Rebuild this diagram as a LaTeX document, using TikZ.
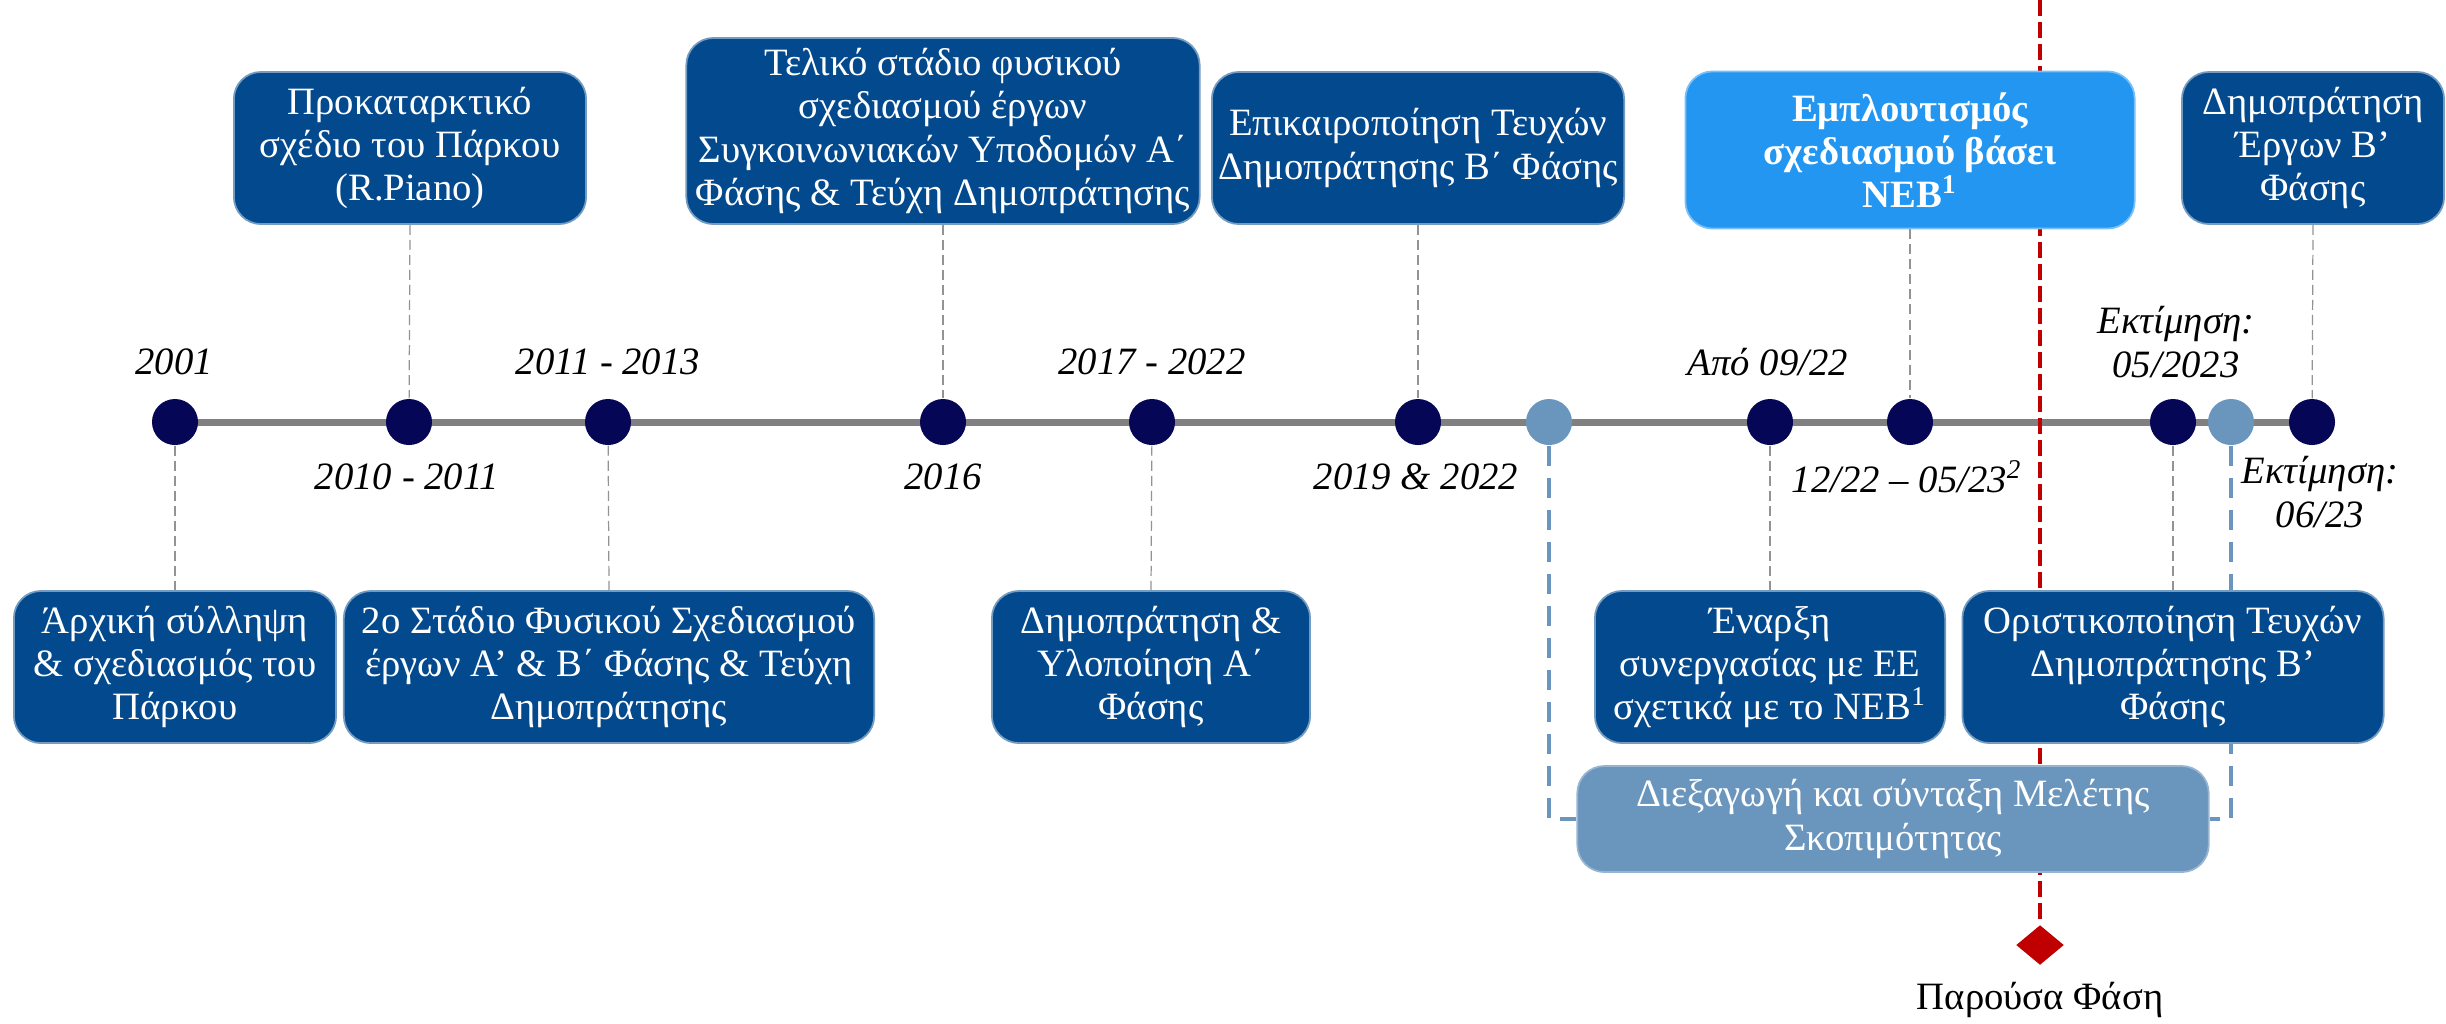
\documentclass[tikz,border=0pt]{standalone}
\usepackage{fontspec}
\setmainfont{Liberation Serif}
\usetikzlibrary{shapes.geometric,backgrounds}
\definecolor{phaseblue}{RGB}{3,73,141}
\definecolor{focusblue}{RGB}{34,150,240}
\definecolor{studyblue}{RGB}{106,150,190}
\definecolor{navydot}{RGB}{6,6,86}
\definecolor{nowred}{RGB}{192,0,0}
\tikzset{
  phasebox/.style={draw=phaseblue!55!white, line width=0.5pt, fill=phaseblue, rounded corners=0.27cm,
    text=white, align=center, inner sep=0pt, minimum height=1.52cm, font=\fontsize{11}{12.3}\selectfont},
  focusbox/.style={phasebox, fill=focusblue, draw=focusblue!60!white, font=\fontsize{11}{12.3}\selectfont\bfseries},
  studybox/.style={phasebox, fill=studyblue, draw=studyblue!70!white},
  darkdot/.style={circle, fill=navydot, minimum size=0.46cm, inner sep=0pt},
  palemark/.style={circle, fill=studyblue, minimum size=0.46cm, inner sep=0pt},
  datelbl/.style={font=\fontsize{11}{12.3}\selectfont\itshape, align=center},
  leader/.style={draw=gray!85, line width=0.35pt, dash pattern=on 0.1cm off 0.05cm},
  bracket/.style={draw=studyblue, line width=0.9pt, dash pattern=on 0.2cm off 0.12cm},
  nowline/.style={draw=nowred, line width=0.9pt, dash pattern=on 0.16cm off 0.06cm}
}
\begin{document}
\begin{tikzpicture}[x=0.01cm, y=-0.01cm]
\useasboundingbox (0,0) rectangle (2446,1023);
\coordinate (nowTop) at (2040,0);
\node[diamond, fill=nowred, minimum width=0.48cm, minimum height=0.40cm, inner sep=0pt] (now) at (2040,945) {};
\node (nowlbl) at (2040,1000) {\fontsize{11}{12.3}\selectfont Παρούσα Φάση};

\node[phasebox, minimum width=3.52cm] (tProk) at (410,148) {Προκαταρκτικό\\σχέδιο του Πάρκου\\(R.Piano)};
\node[phasebox, minimum width=5.13cm, minimum height=1.86cm] (tFinal) at (943,131) {Τελικό στάδιο φυσικού\\σχεδιασμού έργων\\Συγκοινωνιακών Υποδομών Α΄\\Φάσης \& Τεύχη Δημοπράτησης};
\node[phasebox, minimum width=4.12cm] (tUpd) at (1418,148) {Επικαιροποίηση Τευχών\\Δημοπράτησης Β΄ Φάσης};
\node[focusbox, minimum width=4.49cm, minimum height=1.57cm] (tNEB) at (1910,150) {Εμπλουτισμός\\σχεδιασμού βάσει\\NEB\textsuperscript{1}};
\node[phasebox, minimum width=2.62cm] (tAuctB) at (2313,148) {Δημοπράτηση\\Έργων Β’\\Φάσης};

\node[phasebox, minimum width=3.22cm] (bIdea) at (175,667) {Άρχική σύλληψη\\\& σχεδιασμός του\\Πάρκου};
\node[phasebox, minimum width=5.30cm] (bSecond) at (609,667) {2ο Στάδιο Φυσικού Σχεδιασμού\\έργων Α’ \& Β΄ Φάσης \& Τεύχη\\Δημοπράτησης};
\node[phasebox, minimum width=3.18cm] (bAuctA) at (1151,667) {Δημοπράτηση \&\\Υλοποίηση Α΄\\Φάσης};
\node[phasebox, minimum width=3.50cm] (bStart) at (1770,667) {Έναρξη\\συνεργασίας με ΕΕ\\σχετικά με το NEB\textsuperscript{1}};
\node[phasebox, minimum width=4.21cm] (bFinal) at (2173,667) {Οριστικοποίηση Τευχών\\Δημοπράτησης Β’\\Φάσης};
\node[studybox, minimum width=6.31cm, minimum height=1.06cm] (study) at (1893,819) {Διεξαγωγή και σύνταξη Μελέτης\\Σκοπιμότητας};

\node[darkdot] (d2001) at (175,422) {};
\node[darkdot] (d2010) at (409,422) {};
\node[darkdot] (d2011) at (608,422) {};
\node[darkdot] (d2016) at (943,422) {};
\node[darkdot] (d2017) at (1152,422) {};
\node[darkdot] (d2019) at (1418,422) {};
\node[palemark] (pStart) at (1549,422) {};
\node[darkdot] (d0922) at (1770,422) {};
\node[darkdot] (d1222) at (1910,422) {};
\node[darkdot] (d0523) at (2173,422) {};
\node[palemark] (pEnd) at (2231,422) {};
\node[darkdot] (d0623) at (2312,422) {};

\begin{scope}[on background layer]
\draw[gray, line width=2pt] (d2001.center) -- (d0623.center);
\draw[nowline] (nowTop) -- (now.north);
\draw[bracket] (pStart) |- (study.west);
\draw[bracket] (pEnd) |- (study.east);
\end{scope}

\draw[leader] (tProk.south) -- (d2010);
\draw[leader] (tFinal.south) -- (d2016);
\draw[leader] (tUpd.south) -- (d2019);
\draw[leader] (tNEB.south) -- (d1222);
\draw[leader] (tAuctB.south) -- (d0623);
\draw[leader] (d2001) -- (bIdea.north);
\draw[leader] (d2011) -- (bSecond.north);
\draw[leader] (d2017) -- (bAuctA.north);
\draw[leader] (d0922) -- (bStart.north);
\draw[leader] (d0523) -- (bFinal.north);

\node[datelbl] (l2001) at (174,362) {2001};
\node[datelbl] (l2010) at (407,477) {2010 - 2011};
\node[datelbl] (l2011) at (608,362) {2011 - 2013};
\node[datelbl] (l2016) at (943,477) {2016};
\node[datelbl] (l2017) at (1152,362) {2017 - 2022};
\node[datelbl] (l2019) at (1416,477) {2019 \& 2022};
\node[datelbl] (l0922) at (1768,362) {Από 09/22};
\node[datelbl] (l1222) at (1907,477) {12/22 – 05/23\textsuperscript{2}};
\node[datelbl] (l0523) at (2176,342) {Εκτίμηση:\\05/2023};
\node[datelbl] (l0623) at (2320,492) {Εκτίμηση:\\06/23};
\end{tikzpicture}
\end{document}
